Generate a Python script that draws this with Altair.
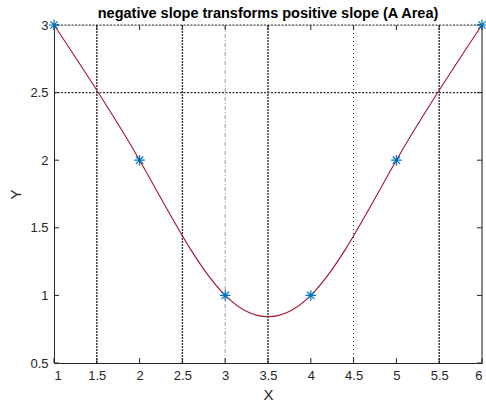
import altair as alt
import pandas as pd

# data
px = [1, 2, 3, 4, 5, 6]
py = [3, 2, 1, 1, 2, 3]
x_ticks = [1, 1.5, 2, 2.5, 3, 3.5, 4, 4.5, 5, 5.5, 6]
y_ticks = [0.5, 1, 1.5, 2, 2.5, 3]
v_dotted = [1.5, 2.5, 3.5, 5.5]
v_light = [3]
v_thin = [4.5]
h_dotted = [2.5, 3]

W, H = 428, 338
FONT = "Liberation Sans"
TXT = "#262626"

pts = pd.DataFrame({"x": px, "y": py})
xs = alt.Scale(domain=[1, 6], nice=False, zero=False)
ys = alt.Scale(domain=[0.5, 3], nice=False, zero=False)

xaxis = alt.Axis(values=x_ticks, ticks=False, grid=False, domainColor="#262626",
                 labelFont=FONT, labelFontSize=13, labelColor=TXT, labelPadding=6,
                 title="X", titleFont=FONT, titleFontSize=15, titleFontWeight="normal",
                 titleColor=TXT, titlePadding=5, format="~g")
yaxis = alt.Axis(values=y_ticks, ticks=False, grid=False, domainColor="#262626",
                 labelFont=FONT, labelFontSize=13, labelColor=TXT, labelPadding=6,
                 title="Y", titleFont=FONT, titleFontSize=15, titleFontWeight="normal",
                 titleColor=TXT, titlePadding=6, format="~g")

base = alt.Chart(pts)

curve = base.mark_line(interpolate="natural", color="#A2142F", strokeWidth=1.1).encode(
    x=alt.X("x:Q", scale=xs, axis=xaxis),
    y=alt.Y("y:Q", scale=ys, axis=yaxis),
)

star = "M-1,0L1,0M0,-1L0,1M-0.7,-0.7L0.7,0.7M-0.7,0.7L0.7,-0.7"
markers = base.mark_point(shape=star, filled=False, color="#0072BD", size=110,
                          strokeWidth=1.2, opacity=1).encode(
    x=alt.X("x:Q", scale=xs), y=alt.Y("y:Q", scale=ys))

def vlines(vals, color, dash, width):
    return alt.Chart(pd.DataFrame({"v": vals})).mark_rule(
        color=color, strokeDash=dash, strokeWidth=width).encode(
        x=alt.X("v:Q", scale=xs), y=alt.value(0), y2=alt.value(H))

def hlines(vals, color, dash, width):
    return alt.Chart(pd.DataFrame({"v": vals})).mark_rule(
        color=color, strokeDash=dash, strokeWidth=width).encode(
        y=alt.Y("v:Q", scale=ys), x=alt.value(0), x2=alt.value(W))

g1 = vlines(v_dotted, "#333333", [2, 1], 1.4)
g2 = vlines(v_light, "#999999", [4, 2, 1, 2], 1)
g3 = vlines(v_thin, "#222222", [1, 3], 1)
g4 = hlines(h_dotted, "#333333", [2, 1.5], 1.2)

xt = pd.DataFrame({"v": x_ticks})
yt = pd.DataFrame({"v": y_ticks})
tick_b = alt.Chart(xt).mark_rule(color="#262626").encode(
    x=alt.X("v:Q", scale=xs), y=alt.value(H), y2=alt.value(H - 5))
tick_t = alt.Chart(xt).mark_rule(color="#262626").encode(
    x=alt.X("v:Q", scale=xs), y=alt.value(0), y2=alt.value(5))
tick_l = alt.Chart(yt).mark_rule(color="#262626").encode(
    y=alt.Y("v:Q", scale=ys), x=alt.value(0), x2=alt.value(5))
tick_r = alt.Chart(yt).mark_rule(color="#262626").encode(
    y=alt.Y("v:Q", scale=ys), x=alt.value(W), x2=alt.value(W - 5))
right_border = alt.Chart(pd.DataFrame({"v": [6]})).mark_rule(color="#262626").encode(
    x=alt.X("v:Q", scale=xs), y=alt.value(0), y2=alt.value(H))

chart = alt.layer(
    g1, g2, g3, g4, tick_b, tick_t, tick_l, tick_r, right_border, curve, markers
).properties(
    width=W, height=H,
    title=alt.Title("negative slope transforms positive slope (A Area)",
                    font=FONT, fontSize=14.5, fontWeight="bold", color="#000000",
                    offset=-4, anchor="middle"),
    padding={"left": 54, "top": 25, "right": 4, "bottom": 45},
    autosize=alt.AutoSizeParams(type="none"),
).configure_view(stroke=None).configure(background="white")

chart.save("out.html", embed_options={"renderer": "svg", "actions": False})
